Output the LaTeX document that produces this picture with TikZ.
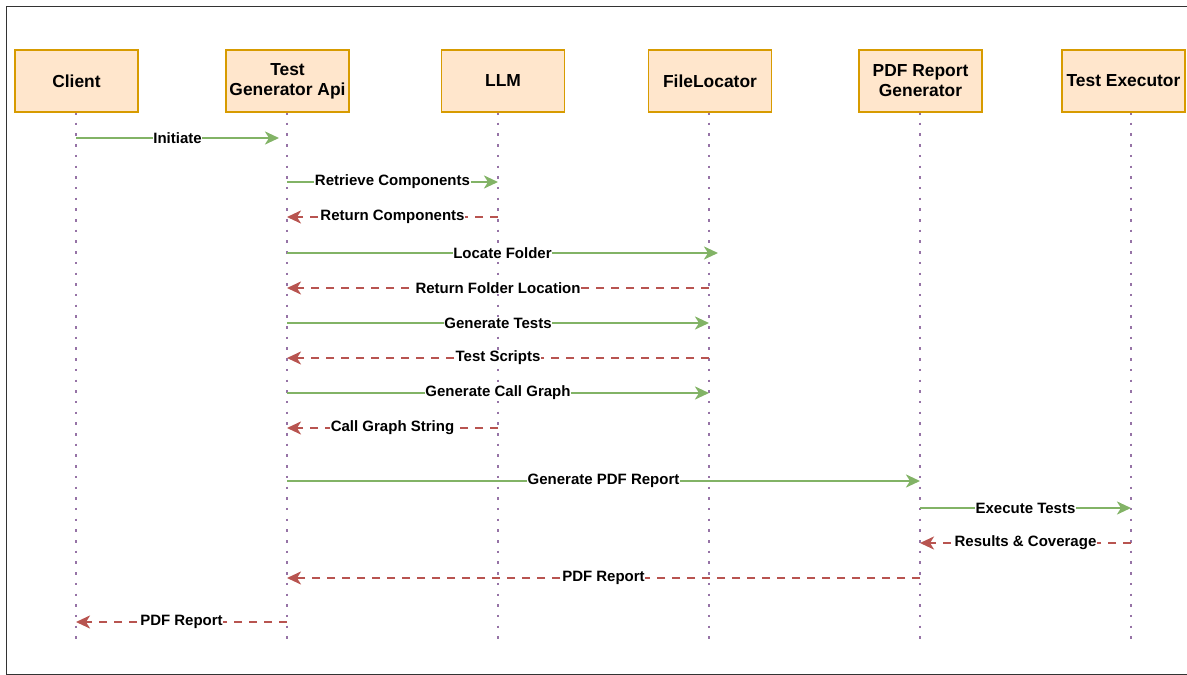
\documentclass[tikz,border=0pt]{standalone}
\usepackage{fontspec}
\setmainfont{Liberation Sans}
\usetikzlibrary{arrows.meta}
\definecolor{boxfill}{HTML}{FFE6CC}
\definecolor{boxline}{HTML}{D79B00}
\definecolor{lifecol}{HTML}{9673A6}
\definecolor{callcol}{HTML}{82B366}
\definecolor{retcol}{HTML}{B85450}
\definecolor{framecol}{HTML}{333333}
\begin{document}
\begin{tikzpicture}[x=1pt,y=1pt,
  actor/.style={draw=boxline,fill=boxfill,line width=1.3pt,minimum width=123pt,minimum height=62pt,
    align=center,font=\fontsize{17.4}{20}\selectfont\bfseries,inner sep=0pt},
  lifeline/.style={draw=lifecol,line width=2.5pt,dash pattern=on 2.5pt off 8.2pt},
  call/.style={draw=callcol,line width=2.5pt,-{Stealth[length=14pt,width=13pt,inset=4pt]}},
  ret/.style={draw=retcol,line width=2.5pt,dash pattern=on 8pt off 7pt,-{Stealth[length=14pt,width=13pt,inset=4pt]}},
  lbl/.style={fill=white,inner sep=0.6pt,font=\fontsize{15}{17}\selectfont\bfseries,text=black}]
\useasboundingbox (0,0) rectangle (1187,-675);
\draw[framecol,line width=1pt] (1190,-6) -- (6,-6) -- (6,-674) -- (1190,-674);
% lifeline tops/bottoms
\foreach \n/\x in {c/76,t/287,l/498,f/709,p/920,e/1131}{
  \coordinate (\n top) at (\x,-112);
  \coordinate (\n bot) at (\x,-640);
  \draw[lifeline] (\n top) -- (\n bot);
}
\node[actor] (client) at (76.5,-81) {Client};
\node[actor] (tga) at (287.5,-81) {Test\\Generator Api};
\node[actor] (llm) at (503,-81) {LLM};
\node[actor] (floc) at (710,-81) {FileLocator};
\node[actor] (pdf) at (920.5,-81) {PDF Report\\Generator};
\node[actor] (exec) at (1123.5,-81) {Test Executor};
% message rows
\foreach \r/\y in {1/138,2/182,3/217,4/253,5/288,6/323,7/358,8/393,9/428,10/481,11/508,12/543,13/578,14/622}{
  \coordinate (r\r) at (0,-\y);
}
\draw[call] (ctop |- r1) -- node[lbl]{Initiate} ([xshift=-8pt]ttop |- r1);
\draw[call] (ttop |- r2) -- node[lbl]{Retrieve Components} (ltop |- r2);
\draw[ret] (ltop |- r3) -- node[lbl]{Return Components} (ttop |- r3);
\draw[call] (ttop |- r4) -- node[lbl]{Locate Folder} ([xshift=9pt]ftop |- r4);
\draw[ret] (ftop |- r5) -- node[lbl]{Return Folder Location} (ttop |- r5);
\draw[call] (ttop |- r6) -- node[lbl]{Generate Tests} (ftop |- r6);
\draw[ret] (ftop |- r7) -- node[lbl]{Test Scripts} (ttop |- r7);
\draw[call] (ttop |- r8) -- node[lbl]{Generate Call Graph} (ftop |- r8);
\draw[ret] (ltop |- r9) -- node[lbl]{Call Graph String} (ttop |- r9);
\draw[call] (ttop |- r10) -- node[lbl]{Generate PDF Report} (ptop |- r10);
\draw[call] (ptop |- r11) -- node[lbl]{Execute Tests} (etop |- r11);
\draw[ret] (etop |- r12) -- node[lbl]{Results \& Coverage} (ptop |- r12);
\draw[ret] (ptop |- r13) -- node[lbl]{PDF Report} (ttop |- r13);
\draw[ret] (ttop |- r14) -- node[lbl]{PDF Report} (ctop |- r14);
\end{tikzpicture}
\end{document}
